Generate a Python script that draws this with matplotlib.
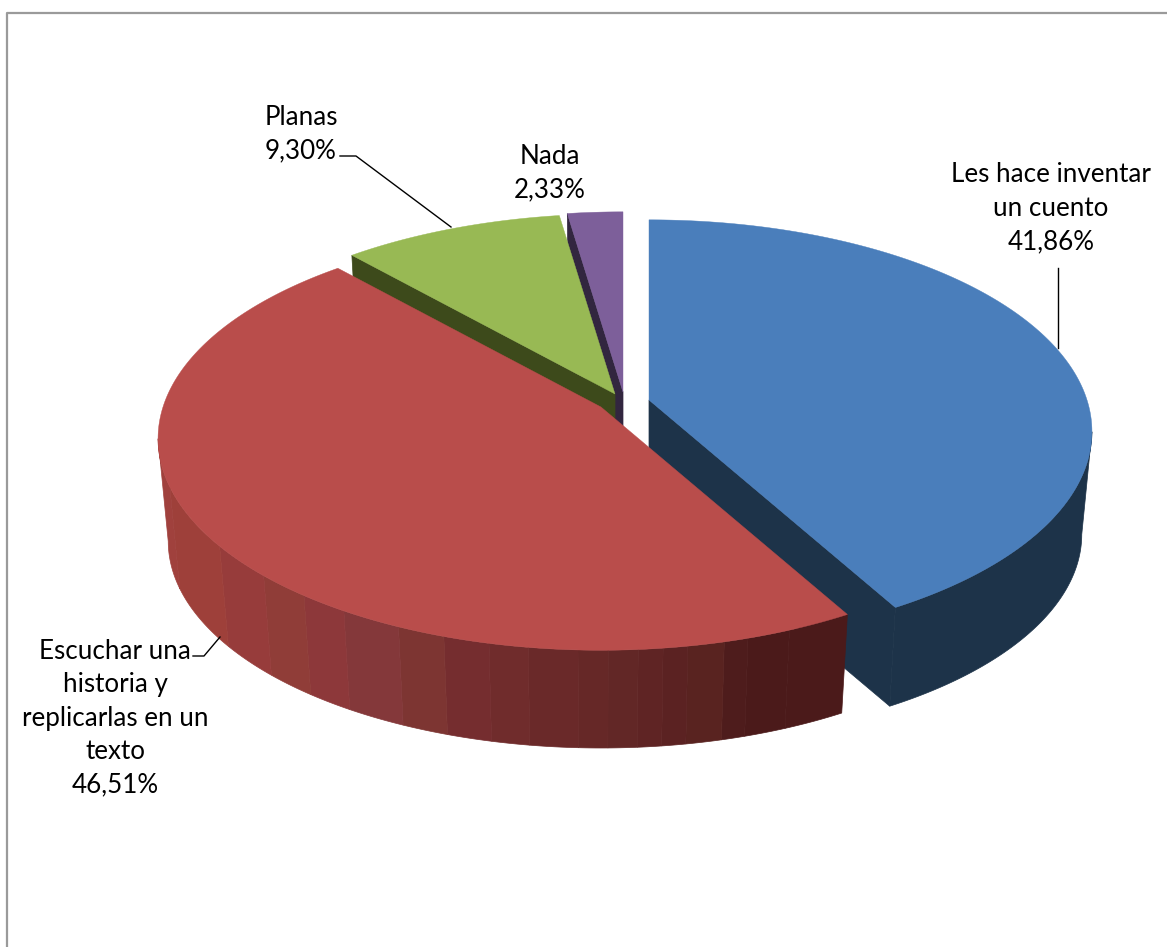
import numpy as np
import matplotlib
matplotlib.use("Agg")
import matplotlib.pyplot as plt

plt.rcParams['font.family'] = ['Lato', 'DejaVu Sans']

categories = ["Les hace inventar\nun cuento", "Escuchar una\nhistoria y\nreplicarlas en un\ntexto", "Planas", "Nada"]
values = [41.86, 46.51, 9.30, 2.33]
top_colors = ["#4a7ebb", "#b94d4b", "#98b954", "#7d5f9a"]
side_colors = ["#1d3349", "#4d1b1b", "#3d4a1b", "#32263f"]

# each slice is pulled out of the pie, so it has its own centre (pixels)
centers = [(649, 400), (601, 407), (615, 394), (623, 392)]
label_pos = [(1051, 208), (115, 718), (301, 134), (550, 173)]

# bands on the side of the red slice, left to right
band_x = [170, 220, 265, 305, 345, 400, 445, 490, 530, 580, 610, 640, 665, 690, 725, 750, 790]
band_colors = ["#a0413d", "#9e403a", "#973c3b", "#903d38", "#8d383a", "#84383a", "#7d3532", "#752d2f",
               "#702c2c", "#6a2929", "#662827", "#622726", "#5f2424", "#5b2222", "#592320", "#4e1c1c", "#4b1a1a", "#4b1a1a"]

A = 438.0
B = 207.0
P = 0.149
SHRINK = 0.977
VANISH_Y = 4900.0


def top_xy(center, theta):
    # theta clockwise from 12 o'clock, simple perspective on the disc
    u = np.sin(theta)
    v = -np.cos(theta)
    w = 1 - P * v
    return center[0] + A * u / w, center[1] + B * v / w


def down_xy(center, x, y):
    return center[0] + SHRINK * (x - center[0]), VANISH_Y + SHRINK * (y - VANISH_Y)


def wall(ax, center, x, y, color):
    xb, yb = down_xy(center, x, y)
    ax.fill(np.r_[x, xb[::-1]], np.r_[y, yb[::-1]], color=color, lw=0.5)


def cut_face(ax, center, theta, color):
    ex, ey = top_xy(center, theta)
    pts_x = np.array([center[0], ex])
    pts_y = np.array([center[1], ey])
    wall(ax, center, pts_x, pts_y, color)


fig = plt.figure(figsize=(11.67, 9.47), dpi=100)
ax = fig.add_axes([0, 0, 1, 1])
ax.set_xlim(0, 1167)
ax.set_ylim(947, 0)
ax.axis("off")

# chart frame, runs off the right and bottom of the picture
ax.plot([7, 7, 1167], [947, 12.5, 12.5], color="#9a9a9a", lw=1.6)

edges = np.cumsum([0] + values) / sum(values) * 2 * np.pi

# back to front: purple, green, blue, red
for i in [3, 2, 0, 1]:
    c = centers[i]
    t = np.linspace(edges[i], edges[i + 1], 600)
    x, y = top_xy(c, t)
    # only the part of the side that faces the viewer
    front = -np.cos(t) >= P
    if front.any():
        fx = x[front]
        fy = y[front]
        if i == 1:
            idx = np.searchsorted(band_x, fx)
            cuts = np.r_[0, np.where(np.diff(idx) != 0)[0] + 1, len(fx) - 1]
            for s, e in zip(cuts[:-1], cuts[1:]):
                wall(ax, c, fx[s:e + 1], fy[s:e + 1], band_colors[idx[s]])
        else:
            wall(ax, c, fx, fy, side_colors[i])
    if i == 0:
        cut_face(ax, c, edges[1], side_colors[0])
    if i == 2:
        cut_face(ax, c, edges[2], side_colors[2])
    if i == 3:
        cut_face(ax, c, edges[3], side_colors[3])
    ax.fill(np.r_[c[0], x], np.r_[c[1], y], color=top_colors[i], lw=0.3)

# leader lines
ax.plot([1058, 1058], [268, 348], color="black", lw=1)
ax.plot([340, 356, 451], [156, 156, 227], color="black", lw=1)
ax.plot([193, 204, 220], [656, 656, 637], color="black", lw=1)

for name, val, pos in zip(categories, values, label_pos):
    txt = name + "\n" + f"{val:.2f}".replace(".", ",") + "%"
    ax.text(pos[0], pos[1], txt, ha="center", va="center", fontsize=18.7, color="black", linespacing=1.42)

fig.savefig("out.png", dpi=100)
